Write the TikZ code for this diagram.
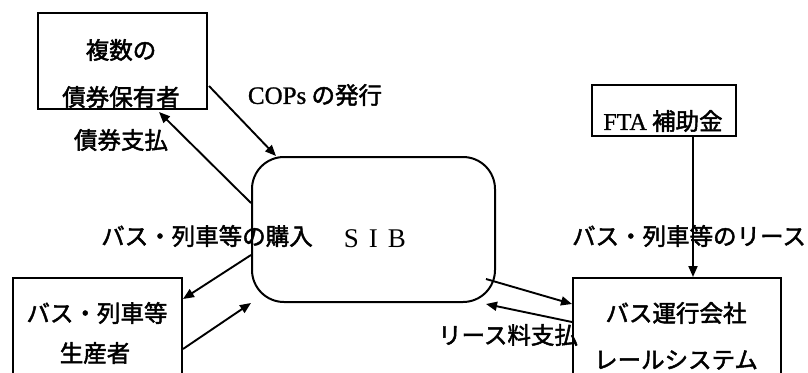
\documentclass[tikz,border=0pt]{standalone}
\usepackage{fontspec}
\setmainfont{Liberation Serif}
\newfontfamily\jp[FakeBold=2]{Noto Sans CJK JP}
\newfontfamily\lat[FakeBold=1]{Liberation Serif}
\usetikzlibrary{arrows.meta}
\begin{document}
\begin{tikzpicture}[x=1pt,y=-1pt,
  box/.style={draw, line width=2pt, inner sep=0pt},
  lbl/.style={inner sep=0pt, font=\fontsize{23.5}{28}\selectfont\jp},
  arr/.style={line width=1.9pt, -{Triangle[length=11pt,width=9pt]}}]
\useasboundingbox (0,0) rectangle (808,372);
\clip (0,0) rectangle (808,372);
% boxes
\node[box, minimum width=169pt, minimum height=96pt] (b1) at (122.5,61) {};
\node[lbl] (b1a) at (121,50) {複数の};
\node[lbl] (b1b) at (121,97) {債券保有者};
\node[box, minimum width=144pt, minimum height=51pt] (fta) at (664,110.5) {};
\node[lbl] (ftat) at (663,121) {{\lat\fontsize{24}{28}\selectfont FTA} 補助金};
\node[box, rounded corners=32pt, minimum width=243pt, minimum height=145pt] (sib) at (373.5,229.5) {};
\node[inner sep=0pt, font=\fontsize{27}{30}\selectfont] (sibt) at (375,239) {S\hspace{10pt}I\hspace{10pt}B};
\node[box, minimum width=169pt, minimum height=110pt] (b2) at (97.5,333) {};
\node[lbl] (b2a) at (97,313) {バス・列車等};
\node[lbl] (b2b) at (95,353) {生産者};
\node[box, minimum width=208pt, minimum height=110pt] (b3) at (677,333) {};
\node[lbl] (b3a) at (676,313) {バス運行会社};
\node[lbl] (b3b) at (676,360) {レールシステム};
% labels
\node[lbl] (l1) at (315,95) {{\lat\fontsize{25}{28}\selectfont COPs} の発行};
\node[lbl] (l2) at (121,140) {債券支払};
\node[lbl] (l3) at (207,236) {バス・列車等の購入};
\node[lbl] (l4) at (689,236) {バス・列車等のリース};
\node[lbl] (l5) at (508,335) {リース料支払};
% arrows
\draw[arr] ([shift={(1,25)}]b1.east) -- ([shift={(25,0)}]sib.north west);
\draw[arr] ([shift={(0,-26.5)}]sib.west) -- ([shift={(36.5,2)}]b1.south);
\draw[arr] ([shift={(0,25.5)}]sib.west) -- ([shift={(0,22)}]b2.north east);
\draw[arr] ([shift={(0,72)}]b2.north east) -- (sib.south west);
\draw[arr] ([shift={(-10,-24)}]sib.south east) -- ([shift={(0,27)}]b3.north west);
\draw[arr] ([shift={(0,45)}]b3.north west) -- ([shift={(-10,1)}]sib.south east);
\draw[arr] ([shift={(29,0)}]fta.south) -- ([shift={(16,0)}]b3.north);
\end{tikzpicture}
\end{document}
